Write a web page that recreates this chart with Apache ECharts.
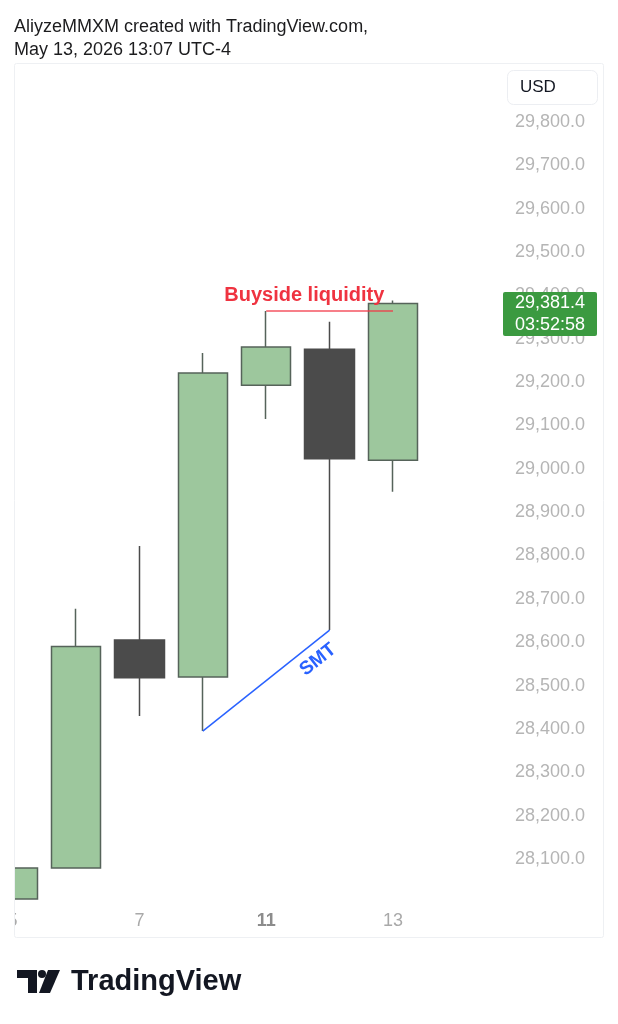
<!DOCTYPE html>
<html><head><meta charset="utf-8">
<script src="https://cdn.jsdelivr.net/npm/echarts@6/dist/echarts.min.js"></script>
<style>html,body{margin:0;padding:0;background:#fff}#c{width:618px;height:1024px}</style>
</head><body><div id="c"></div>
<script>
// ---- data ----
const categories = ['5', '6', '7', '8', '11', '12', '13', ''];
const opens  = [28008, 28079, 28605, 28520, 29193, 29276, 29020];
const closes = [28079, 28590, 28518, 29221, 29281, 29023, 29381.4];
const lows   = [28008, 28079, 28430, 28395, 29115, 28628, 28947];
const highs  = [28079, 28677, 28822, 29267, 29364, 29339, 29388];
const yMin = 28000, yMax = 29900, yStep = 100;
const hiddenTicks = [28000, 29900];
const shownDateIdx = [0, 2, 4, 6];
const boldDateIdx = [4];
const buysideLevel = 29364, buysideFromIdx = 4, buysideToIdx = 6;
const buysideText = 'Buyside liquidity';
const smtStart = [3, 28395], smtEnd = [5, 28628];
const smtText = 'SMT';
const lastPrice = 29381.4, countdown = '03:52:58';
const currency = 'USD';
const headerLines = ['AliyzeMMXM created with TradingView.com,', 'May 13, 2026 13:07 UTC-4'];

const FONT = '"Liberation Sans", Arial, Helvetica, sans-serif';
const fmt = v => v.toLocaleString('en-US', {minimumFractionDigits: 1, maximumFractionDigits: 1});
const candles = opens.map((o, i) => [o, closes[i], lows[i], highs[i]]);

const chart = echarts.init(document.getElementById('c'), null, {renderer: 'canvas'});
chart.setOption({
  backgroundColor: '#ffffff',
  animation: false,
  grid: {left: 12.6, right: 161.6, top: 78.65, bottom: 121.65, containLabel: false},
  xAxis: {
    type: 'category', data: categories, boundaryGap: false,
    axisLine: {show: false}, axisTick: {show: false}, splitLine: {show: false},
    axisLabel: {
      margin: 10, fontFamily: FONT, fontSize: 18, color: '#a9a9a9',
      interval: (i) => shownDateIdx.includes(i),
      formatter: (v, i) => boldDateIdx.includes(i) ? '{b|' + v + '}' : v,
      rich: {b: {fontWeight: 'bold', color: '#8c8c8c', fontSize: 18, fontFamily: FONT}}
    }
  },
  yAxis: {
    type: 'value', position: 'right', min: yMin, max: yMax, interval: yStep, scale: true,
    axisLine: {show: false}, axisTick: {show: false}, splitLine: {show: false},
    axisLabel: {
      margin: 58.6, fontFamily: FONT, fontSize: 18, color: '#b5b5b5',
      formatter: v => hiddenTicks.includes(v) ? '' : fmt(v)
    }
  },
  series: [{
    type: 'candlestick', data: candles, barWidth: 50, clip: false,
    itemStyle: {color: '#9dc79d', color0: '#4b4b4b', borderColor: '#56635a', borderColor0: '#4b4b4b', borderWidth: 1.5},
    markLine: {
      silent: true, symbol: ['none', 'none'], label: {show: false},
      data: [
        [{coord: [buysideFromIdx, buysideLevel], lineStyle: {color: 'rgba(242,54,69,0.85)', width: 1.5, type: 'solid'}},
         {coord: [buysideToIdx, buysideLevel]}],
        [{coord: smtStart, lineStyle: {color: '#2962ff', width: 1.5, type: 'solid'}},
         {coord: smtEnd}]
      ]
    }
  }]
});

// ---- annotations / chrome ----
const b1 = chart.convertToPixel({gridIndex: 0}, [buysideFromIdx, buysideLevel]);
const b2 = chart.convertToPixel({gridIndex: 0}, [buysideToIdx, buysideLevel]);
const s1 = chart.convertToPixel({gridIndex: 0}, smtStart);
const s2 = chart.convertToPixel({gridIndex: 0}, smtEnd);
const lp = chart.convertToPixel({gridIndex: 0}, [0, lastPrice]);
const dx = s2[0] - s1[0], dy = s2[1] - s1[1], len = Math.hypot(dx, dy);
const ux = dx / len, uy = dy / len;
const nx = -uy, ny = ux; // normal pointing down-right
const t = 0.83, off = 16;
const smtX = s1[0] + dx * t + nx * off, smtY = s1[1] + dy * t + ny * off;

chart.setOption({
  graphic: [
    {type: 'rect', z: 50, shape: {x: 0, y: 60, width: 14, height: 882}, style: {fill: '#ffffff'}},
    {type: 'rect', z: 51, shape: {x: 14.5, y: 63.5, width: 589, height: 874, r: 2}, style: {fill: 'none', stroke: '#eef0f3', lineWidth: 1}},
    {type: 'text', z: 60, x: 14, y: 27, style: {text: headerLines[0], fontFamily: FONT, fontSize: 18, fill: '#1c1c1e', verticalAlign: 'middle'}},
    {type: 'text', z: 60, x: 14, y: 50, style: {text: headerLines[1], fontFamily: FONT, fontSize: 18, fill: '#1c1c1e', verticalAlign: 'middle'}},
    {type: 'rect', z: 60, shape: {x: 507.5, y: 70.5, width: 90, height: 34, r: 6}, style: {fill: '#ffffff', stroke: '#eceef2', lineWidth: 1}},
    {type: 'text', z: 61, x: 520, y: 87.5, style: {text: currency, fontFamily: FONT, fontSize: 17, fill: '#131722', verticalAlign: 'middle'}},
    {type: 'rect', z: 60, shape: {x: 503, y: lp[1] - 11.5, width: 94, height: 44, r: 2}, style: {fill: '#3b9a40'}},
    {type: 'text', z: 61, x: 515, y: lp[1], style: {text: fmt(lastPrice), fontFamily: FONT, fontSize: 18, fill: '#ffffff', verticalAlign: 'middle'}},
    {type: 'text', z: 61, x: 515, y: lp[1] + 22, style: {text: countdown, fontFamily: FONT, fontSize: 18, fill: '#ffffff', verticalAlign: 'middle'}},
    {type: 'text', z: 61, x: b1[0] + (b2[0] - b1[0]) * 0.3, y: b1[1] - 16,
     style: {text: buysideText, fontFamily: FONT, fontSize: 20, fontWeight: 'bold', fill: '#ef3340', align: 'center', verticalAlign: 'middle'}},
    {type: 'text', z: 61, x: smtX, y: smtY, rotation: Math.atan2(-dy, dx),
     style: {text: smtText, fontFamily: FONT, fontSize: 19, fontWeight: 'bold', fill: '#2962ff', align: 'center', verticalAlign: 'middle'}},
    // TradingView logo
    {type: 'rect', z: 60, shape: {x: 17, y: 970, width: 20, height: 8}, style: {fill: '#131722'}},
    {type: 'rect', z: 60, shape: {x: 28, y: 970, width: 9, height: 23}, style: {fill: '#131722'}},
    {type: 'circle', z: 60, shape: {cx: 42, cy: 974, r: 4}, style: {fill: '#131722'}},
    {type: 'polygon', z: 60, shape: {points: [[48, 970], [60, 970], [50, 993], [39, 993]]}, style: {fill: '#131722'}},
    {type: 'text', z: 60, x: 71, y: 982, style: {text: 'TradingView', fontFamily: FONT, fontSize: 29, fontWeight: 'bold', fill: '#131722', verticalAlign: 'middle'}}
  ]
});
</script></body></html>
